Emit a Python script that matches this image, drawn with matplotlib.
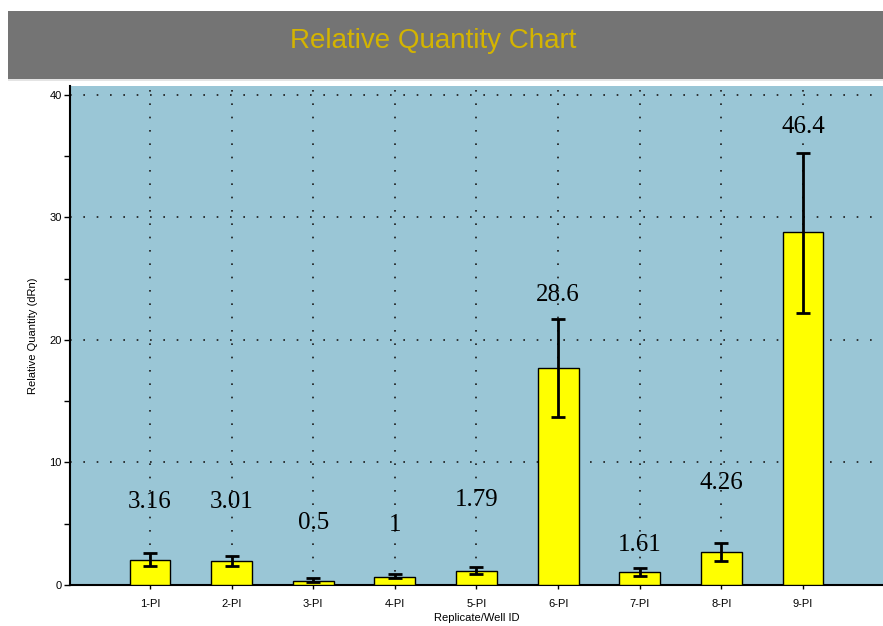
import matplotlib
matplotlib.use("Agg")
import matplotlib.pyplot as plt
from matplotlib.patches import Rectangle
from matplotlib.ticker import MultipleLocator

# relative quantity per replicate, with the error bar bounds
wells = ["1-PI", "2-PI", "3-PI", "4-PI", "5-PI", "6-PI", "7-PI", "8-PI", "9-PI"]
rq = [2.0, 1.93, 0.35, 0.65, 1.14, 17.74, 1.03, 2.69, 28.84]
rq_low = [1.55, 1.55, 0.27, 0.55, 0.92, 13.71, 0.76, 1.96, 22.2]
rq_high = [2.6, 2.37, 0.55, 0.9, 1.47, 21.74, 1.36, 3.45, 35.3]
labels = ["3.16", "3.01", "0.5", "1", "1.79", "28.6", "1.61", "4.26", "46.4"]

# where the value labels sit (data units)
label_y = [6.8, 6.8, 5.1, 4.9, 6.9, 23.7, 3.3, 8.3, 37.4]

fig = plt.figure(figsize=(8.83, 6.26), dpi=100)
fig.patch.set_facecolor("white")

# title banner
fig.patches.append(Rectangle((8 / 883, 1 - 79 / 626), 1, 68 / 626,
                             transform=fig.transFigure, facecolor="#747474",
                             edgecolor="none", zorder=0))
fig.patches.append(Rectangle((8 / 883, 1 - 81 / 626), 1, 2 / 626,
                             transform=fig.transFigure, facecolor="#e4e4e4",
                             edgecolor="none", zorder=0))
fig.text(433 / 883, 1 - 41 / 626, "Relative Quantity Chart", color="#d4b400",
         fontsize=20, family="Liberation Sans", ha="center", va="center")

ax = fig.add_axes([70 / 883, 41 / 626, 813 / 883, 499 / 626])
ax.set_facecolor("#9ac6d6")

x = list(range(1, len(wells) + 1))
yerr = [[v - lo for v, lo in zip(rq, rq_low)],
        [hi - v for v, hi in zip(rq, rq_high)]]
ax.bar(x, rq, width=0.5, color="#ffff00", edgecolor="black", linewidth=1, zorder=3)
ax.errorbar(x, rq, yerr=yerr, fmt="none", ecolor="black", elinewidth=2,
            capsize=5, capthick=2, zorder=4)

for xi, ly, t in zip(x, label_y, labels):
    ax.text(xi, ly, t, ha="center", va="center", fontsize=18,
            family="Liberation Serif", color="black", zorder=5)

ax.set_xlim(0.02, 9.98)
ax.set_ylim(0, 40.73)
ax.set_xticks(x)
ax.set_xticklabels(wells, family="Liberation Sans", fontsize=8)
ax.yaxis.set_major_locator(MultipleLocator(10))
ax.yaxis.set_minor_locator(MultipleLocator(5))
for lab in ax.get_yticklabels():
    lab.set_family("Liberation Sans")
    lab.set_fontsize(8)
ax.tick_params(axis="y", which="both", direction="out", length=4, width=1, pad=2)
ax.tick_params(axis="x", direction="out", length=3, width=1, pad=7)

ax.grid(True, which="major", color="#1a1a1a", linestyle=(0, (1, 7)), linewidth=1.2, zorder=1)
ax.set_axisbelow(True)

for side in ["top", "right"]:
    ax.spines[side].set_visible(False)
ax.spines["left"].set_linewidth(1.5)
ax.spines["bottom"].set_linewidth(1.5)

ax.set_xlabel("Replicate/Well ID", family="Liberation Sans", fontsize=8, labelpad=3)
ax.set_ylabel("Relative Quantity (dRn)", family="Liberation Sans", fontsize=8, labelpad=8)

fig.savefig("out.png", dpi=100)
